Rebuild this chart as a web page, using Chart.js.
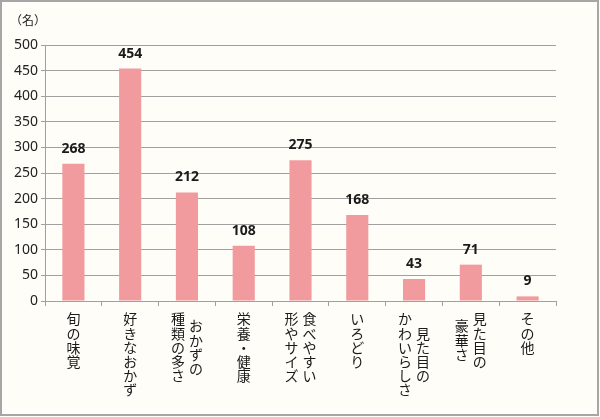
<!DOCTYPE html>
<html>
<head>
<meta charset="utf-8">
<script src="https://cdn.jsdelivr.net/npm/chart.js@4/dist/chart.umd.min.js"></script>
<style>
  html, body { margin: 0; padding: 0; background: #fff; }
  #wrap { width: 600px; height: 417px; position: relative; }
</style>
</head>
<body>
<div id="wrap"><canvas id="chart" width="600" height="417"></canvas></div>
<script>
const categories = [
    '旬の味覚',
    '好きなおかず',
    'おかずの\n種類の多さ',
    '栄養・健康',
    '食べやすい\n形やサイズ',
    'いろどり',
    '見た目の\nかわいらしさ',
    '見た目の\n豪華さ',
    'その他',
];

const counts = [268, 454, 212, 108, 275, 168, 43, 71, 9];

const yTicks = [0, 50, 100, 150, 200, 250, 300, 350, 400, 450, 500];

const unitLabel = '（名）';

const jpFont = '"Noto Sans CJK JP", "Noto Sans", sans-serif';
const numFont = '"Noto Sans", "Open Sans", sans-serif';

// background, frame, unit label
const framePlugin = {
    id: 'frame',
    beforeDraw(chart) {
        const ctx = chart.ctx;
        ctx.save();
        ctx.fillStyle = '#fffdf7';
        ctx.fillRect(0, 0, chart.width, chart.height);
        ctx.strokeStyle = '#a6a6a6';
        ctx.lineWidth = 2;
        ctx.strokeRect(1, 1, chart.width - 3, chart.height - 3);
        ctx.fillStyle = '#222';
        ctx.font = '12px ' + jpFont;
        ctx.textAlign = 'center';
        ctx.textBaseline = 'middle';
        ctx.fillText(unitLabel, 28, 20);
        ctx.restore();
    }
};

// value labels over bars and vertical category labels
const labelPlugin = {
    id: 'labels',
    afterDatasetsDraw(chart) {
        const ctx = chart.ctx;
        const meta = chart.getDatasetMeta(0);
        const xScale = chart.scales.x;
        ctx.save();
        ctx.fillStyle = '#1a1a1a';
        ctx.textAlign = 'center';
        ctx.textBaseline = 'middle';
        ctx.font = 'bold 14px ' + numFont;
        meta.data.forEach((bar, i) => {
            ctx.fillText(String(counts[i]), bar.x, bar.y - 15);
        });

        ctx.font = '14px ' + jpFont;
        const pitch = 14.2;
        const firstY = 319;
        categories.forEach((cat, i) => {
            const cx = xScale.getPixelForValue(i);
            const cols = cat.split('\n');
            const maxLen = Math.max(...cols.map(c => [...c].length));
            cols.forEach((col, j) => {
                // first line is the right-hand column
                const x = cx + (cols.length === 1 ? 0 : (j === 0 ? 9 : -9));
                const chars = [...col];
                const top = firstY + (maxLen - chars.length) * pitch / 2;
                chars.forEach((ch, k) => {
                    ctx.fillText(ch, x, top + k * pitch);
                });
            });
        });
        ctx.restore();
    }
};

new Chart(document.getElementById('chart'), {
    type: 'bar',
    data: {
        labels: categories,
        datasets: [{
            data: counts,
            backgroundColor: '#f29b9f',
            barPercentage: 0.39,
            categoryPercentage: 1.0
        }]
    },
    options: {
        responsive: false,
        animation: false,
        layout: { padding: { top: 45, right: 44, left: 0, bottom: 0 } },
        plugins: {
            legend: { display: false },
            tooltip: { enabled: false }
        },
        scales: {
            x: {
                grid: {
                    offset: true,
                    drawOnChartArea: false,
                    drawTicks: true,
                    tickLength: 5,
                    color: '#a0a0a0'
                },
                border: { color: '#a0a0a0', width: 1 },
                ticks: { display: false },
                afterFit(s) { s.height = 116; }
            },
            y: {
                min: 0,
                max: 500,
                afterBuildTicks(s) { s.ticks = yTicks.map(v => ({ value: v })); },
                grid: { color: '#a0a0a0', tickLength: 4 },
                border: { color: '#a0a0a0', width: 1 },
                ticks: {
                    color: '#222',
                    padding: 3,
                    font: { family: numFont, size: 14 }
                },
                afterFit(s) { s.width = 45; }
            }
        }
    },
    plugins: [framePlugin, labelPlugin]
});
</script>
</body>
</html>
